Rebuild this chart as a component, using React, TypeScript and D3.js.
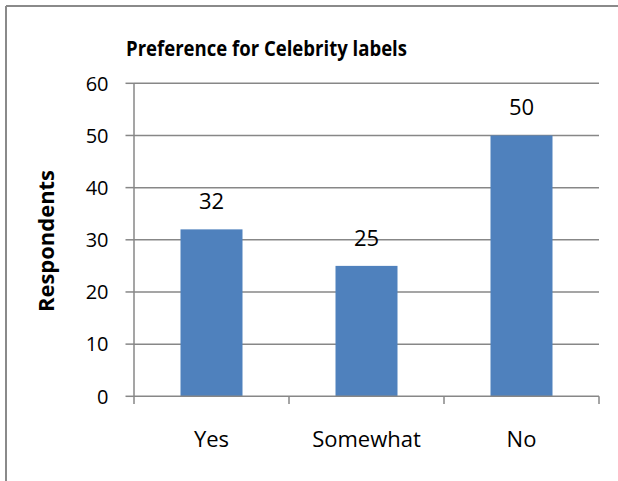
import * as d3 from 'd3';

// chart data
const categories = ['Yes', 'Somewhat', 'No'];
const respondents = [32, 25, 50];
const yTicks = [0, 10, 20, 30, 40, 50, 60];

const W = 618;
const H = 481;
const FONT = '"Open Sans", "Liberation Sans", sans-serif';
const GRID = '#878787';
const BAR = '#4f81bd';

export default function App() {
  const left = 134;
  const right = 599;
  const top = 83.3;
  const bottom = 396.3;

  const x = d3.scaleBand<string>().domain(categories).range([left, right]).padding(0);
  const y = d3.scaleLinear().domain([0, 60]).range([bottom, top]);
  const barW = x.bandwidth() * 0.4;

  // tick marks on the category axis sit on the band edges
  const xEdges = categories.map((c) => (x(c) ?? 0) + x.bandwidth());

  return (
    <svg width={W} height={H} style={{ position: 'absolute', left: 0, top: 0, background: '#fff' }}>
      <rect x={0} y={0} width={W} height={H} fill="#fff" />
      {/* outer frame (only left and top edges are in view) */}
      <line x1={6} x2={6} y1={6} y2={H} stroke="#8a8a8a" strokeWidth={2} />
      <line x1={6} x2={W} y1={6} y2={6} stroke="#8a8a8a" strokeWidth={2} />

      <text
        x={266.5}
        y={56}
        textAnchor="middle"
        fontFamily={FONT}
        fontWeight="bold"
        fontSize={22}
        textLength={281}
        lengthAdjust="spacingAndGlyphs"
        fill="#000"
      >
        Preference for Celebrity labels
      </text>

      {/* gridlines + y ticks */}
      {yTicks.map((t) => (
        <g key={t}>
          {t > 0 && <line x1={left} x2={right} y1={y(t)} y2={y(t)} stroke={GRID} strokeWidth={1.5} />}
          <line x1={125.5} x2={left} y1={y(t)} y2={y(t)} stroke={GRID} strokeWidth={1.5} />
          <text x={108.5} y={y(t) + 7.2} textAnchor="end" fontFamily={FONT} fontSize={20} fill="#000">
            {t}
          </text>
        </g>
      ))}

      {/* bars */}
      {categories.map((c, i) => {
        const cx = (x(c) ?? 0) + x.bandwidth() / 2;
        return (
          <g key={c}>
            <rect x={cx - barW / 2} y={y(respondents[i])} width={barW} height={bottom - y(respondents[i])} fill={BAR} />
            <text x={cx} y={y(respondents[i]) - 20} textAnchor="middle" fontFamily={FONT} fontSize={22} fill="#000">
              {respondents[i]}
            </text>
            <text x={cx} y={446.5} textAnchor="middle" fontFamily={FONT} fontSize={22} fill="#000">
              {c}
            </text>
          </g>
        );
      })}

      {/* axes */}
      <line x1={left} x2={left} y1={top} y2={404} stroke={GRID} strokeWidth={1.5} />
      <line x1={left} x2={right} y1={bottom} y2={bottom} stroke={GRID} strokeWidth={1.5} />
      {xEdges.map((ex, i) => (
        <line key={i} x1={ex} x2={ex} y1={bottom} y2={404} stroke={GRID} strokeWidth={1.5} />
      ))}

      <text
        transform={`translate(54,241) rotate(-90)`}
        textAnchor="middle"
        fontFamily={FONT}
        fontWeight="bold"
        fontSize={22}
        textLength={142}
        lengthAdjust="spacingAndGlyphs"
        fill="#000"
      >
        Respondents
      </text>
    </svg>
  );
}
